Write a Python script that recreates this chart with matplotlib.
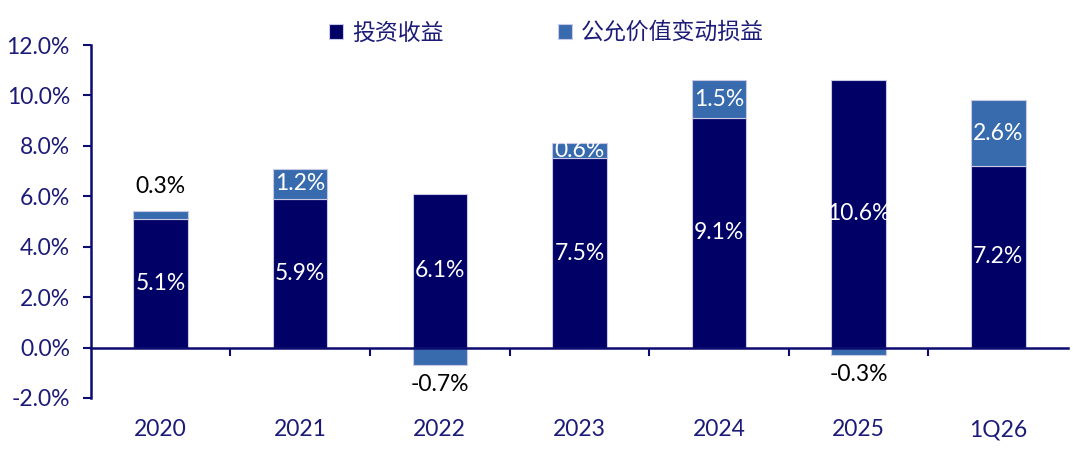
import numpy as np
import matplotlib.pyplot as plt
import matplotlib.transforms as mtransforms

plt.rcParams['font.family'] = ['Lato', 'Noto Sans CJK SC', 'DejaVu Sans']

categories = ['2020', '2021', '2022', '2023', '2024', '2025', '1Q26']
invest_income = [5.1, 5.9, 6.1, 7.5, 9.1, 10.6, 7.2]
fair_value = [0.3, 1.2, -0.7, 0.6, 1.5, -0.3, 2.6]

navy = '#000066'
blue = '#376BAE'
axis_c = '#0B0B70'
text_c = '#1C1C78'
fs = 16.5

fig = plt.figure(figsize=(10.8, 4.5), dpi=100)
ax = fig.add_axes([0.084, 0.1156, 0.905, 0.7844])

x = np.arange(len(categories))
w = 0.39
inv = np.array(invest_income)
fv = np.array(fair_value)
bottom_fv = np.where(fv > 0, inv, 0)

b1 = ax.bar(x, inv, w, color=navy, edgecolor='#c9c9e6', linewidth=0.8, label='投资收益', zorder=3)
b2 = ax.bar(x, fv, w, bottom=bottom_fv, color=blue, edgecolor='#c9c9e6', linewidth=0.8,
            label='公允价值变动损益', zorder=3)

for i in range(len(x)):
    ax.text(x[i], inv[i] / 2, f'{inv[i]:.1f}%', ha='center', va='center', color='white',
            fontsize=fs, zorder=4)
    v = fv[i]
    if v < 0:
        ax.text(x[i], v - 0.75, f'{v:.1f}%', ha='center', va='center', color='black',
                fontsize=fs, zorder=4)
    elif v < 0.5:
        ax.text(x[i], inv[i] + v + 1.0, f'{v:.1f}%', ha='center', va='center', color='black',
                fontsize=fs, zorder=4)
    else:
        ax.text(x[i], inv[i] + v / 2, f'{v:.1f}%', ha='center', va='center', color='white',
                fontsize=fs, zorder=4)

ax.set_xlim(-0.5, len(x) - 0.5)
ax.set_ylim(-2, 12)
ax.set_yticks(np.arange(-2, 12.1, 2))
ax.set_yticklabels([f'{t:.1f}%' for t in np.arange(-2, 12.1, 2)])
ax.tick_params(axis='y', colors=axis_c, labelcolor=text_c, labelsize=fs, length=6, width=1.5,
               direction='out', pad=9)

for s in ['top', 'right']:
    ax.spines[s].set_visible(False)
ax.spines['left'].set_color(axis_c)
ax.spines['left'].set_linewidth(1.8)
ax.spines['bottom'].set_position(('data', 0))
ax.spines['bottom'].set_color(axis_c)
ax.spines['bottom'].set_linewidth(1.8)
ax.spines['bottom'].set_zorder(5)

ax.set_xticks(np.arange(0.5, len(x) - 0.5, 1))
ax.set_xticklabels([])
ax.tick_params(axis='x', colors=axis_c, length=6, width=1.5, direction='out')

trans = mtransforms.blended_transform_factory(ax.transData, ax.transAxes)
for i, c in enumerate(categories):
    ax.text(x[i], -0.09, c, transform=trans, ha='center', va='center', color=text_c, fontsize=fs)

leg = fig.legend(handles=[b1, b2], loc='center', bbox_to_anchor=(0.506, 0.928), ncol=2,
                 frameon=False, fontsize=fs, handlelength=0.6, handleheight=0.6,
                 columnspacing=5.0, handletextpad=0.4)
for t in leg.get_texts():
    t.set_color(text_c)

fig.savefig('out.png', dpi=100)
